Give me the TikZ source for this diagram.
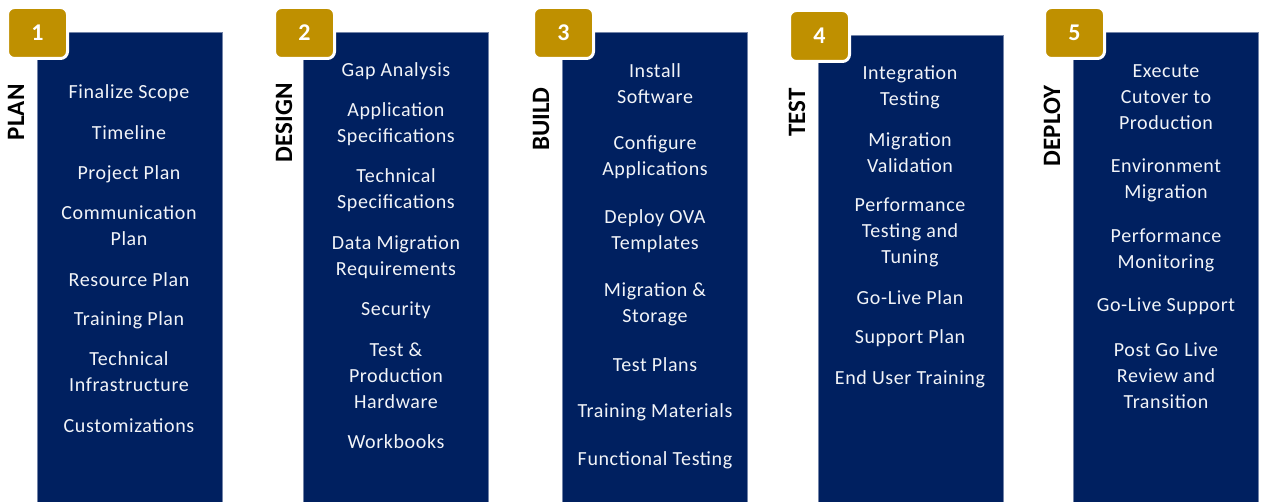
\documentclass[tikz,border=0pt]{standalone}
\usepackage{fontspec}
\setmainfont{Carlito}
\newfontfamily\itemfont{Carlito}[LetterSpace=3]
\usetikzlibrary{positioning}
\definecolor{navy}{HTML}{002060}
\definecolor{gold}{HTML}{BF9000}
\definecolor{itemfg}{HTML}{F2F4F8}

\begin{document}
\begin{tikzpicture}[x=1pt,y=-1pt,
    phase/.style={fill=navy,draw=navy!55!white,line width=0.8pt,minimum width=185pt,
      anchor=north west,inner sep=0pt},
    badge/.style={fill=gold,draw=white,line width=3pt,rounded corners=7pt,
      minimum width=60pt,minimum height=51pt,anchor=north west,text=white,
      font=\fontsize{24}{24}\selectfont\bfseries},
    stage/.style={rotate=90,anchor=east,font=\fontsize{25}{25}\selectfont\bfseries},
    item/.style={text=itemfg,align=center,font=\itemfont\fontsize{20}{26}\selectfont}]
  \fill[white] (0,0) rectangle (1261,502);
  \useasboundingbox (0,0) rectangle (1261,502);

  % phase 1
  \node[phase,minimum height=470pt] (box1) at (37,32) {};
  \node[badge] (badge1) at (6,6) {1};
  \node[stage] (stage1) at (16,81) {PLAN};
  \node[item] (plan1) at (129,93) {Finalize Scope};
  \node[item] (plan2) at (129,133) {Timeline};
  \node[item] (plan3) at (129,174) {Project Plan};
  \node[item] (plan4) at (129,226) {Communication\\Plan};
  \node[item] (plan5) at (129,280) {Resource Plan};
  \node[item] (plan6) at (129,320) {Training Plan};
  \node[item] (plan7) at (129,372) {Technical\\Infrastructure};
  \node[item] (plan8) at (129,426) {Customizations};

  % phase 2
  \node[phase,minimum height=470pt] (box2) at (303,32) {};
  \node[badge] (badge2) at (273,6) {2};
  \node[stage] (stage2) at (284,80) {DESIGN};
  \node[item] (design1) at (396,71) {Gap Analysis};
  \node[item] (design2) at (396,124) {Application\\Specifications};
  \node[item] (design3) at (396,190) {Technical\\Specifications};
  \node[item] (design4) at (396,257) {Data Migration\\Requirements};
  \node[item] (design5) at (396,310) {Security};
  \node[item] (design6) at (396,376) {Test \&\\Production\\Hardware};
  \node[item] (design7) at (396,442) {Workbooks};

  % phase 3
  \node[phase,minimum height=470pt] (box3) at (562,32) {};
  \node[badge] (badge3) at (532,6) {3};
  \node[stage] (stage3) at (541,84) {BUILD};
  \node[item] (build1) at (655,84) {Install\\Software};
  \node[item] (build2) at (655,157) {Configure\\Applications};
  \node[item] (build3) at (655,231) {Deploy OVA\\Templates};
  \node[item] (build4) at (655,304) {Migration \&\\Storage};
  \node[item] (build5) at (655,365) {Test Plans};
  \node[item] (build6) at (655,412) {Training Materials};
  \node[item] (build7) at (655,460) {Functional Testing};

  % phase 4
  \node[phase,minimum height=467pt] (box4) at (818,35) {};
  \node[badge] (badge4) at (788,9) {4};
  \node[stage] (stage4) at (797,85) {TEST};
  \node[item] (test1) at (910,87) {Integration\\Testing};
  \node[item] (test2) at (910,153) {Migration\\Validation};
  \node[item] (test3) at (910,232) {Performance\\Testing and\\Tuning};
  \node[item] (test4) at (910,298) {Go-Live Plan};
  \node[item] (test5) at (910,338) {Support Plan};
  \node[item] (test6) at (910,379) {End User Training};

  % phase 5
  \node[phase,minimum height=470pt] (box5) at (1073,32) {};
  \node[badge] (badge5) at (1043,6) {5};
  \node[stage] (stage5) at (1052,82) {DEPLOY};
  \node[item] (deploy1) at (1166,97) {Execute\\Cutover to\\Production};
  \node[item] (deploy2) at (1166,180) {Environment\\Migration};
  \node[item] (deploy3) at (1166,250) {Performance\\Monitoring};
  \node[item] (deploy4) at (1166,306) {Go-Live Support};
  \node[item] (deploy5) at (1166,376) {Post Go Live\\Review and\\Transition};
\end{tikzpicture}
\end{document}
